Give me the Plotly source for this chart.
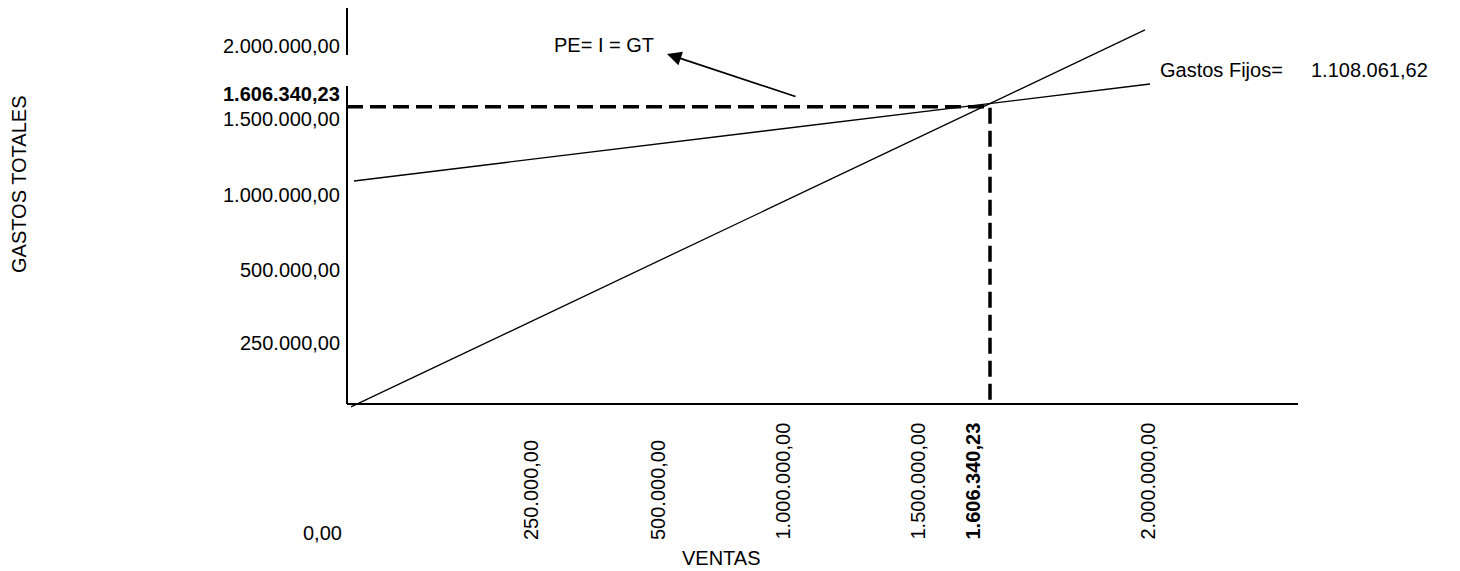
import plotly.graph_objects as go

# ---------------- data ----------------
BREAK_EVEN = 1606340.23
FIXED_COSTS = 1108061.62

# ingresos (ventas) line (value units)
revenue_x = [10000, 1993500]
revenue_y = [-16000, 2021000]
# gastos totales line
cost_x = [17500, 2006000]
cost_y = [1205000, 1729000]

y_tick_values = [2000000, BREAK_EVEN, 1500000, 1000000, 500000, 250000]
x_tick_values = [250000, 500000, 1000000, 1500000, BREAK_EVEN, 2000000]
zero_label_value = 0

# ---------------- layout geometry (page pixels) ----------------
PAGE_W, PAGE_H = 1460, 571
OFF = 8                                  # default body margin of the html page
L, R, T, B = 339, 1300, 8, 410           # plot area edges in page pixels
X0PX, Y0PX = 347, 404                    # page pixel of value 0 on each axis
KX = (990 - X0PX) / BREAK_EVEN           # px per unit
KY = (Y0PX - 106.7) / BREAK_EVEN


def vx(p):  # page pixel -> x value
    return (p - X0PX) / KX


def vy(p):  # page pixel -> y value
    return (Y0PX - p) / KY


def px_paper_x(p):
    return (p - L) / (R - L)


def px_paper_y(p):
    return (B - p) / (B - T)


def fmt(v):
    s = f"{v:,.2f}"
    return s.replace(",", "X").replace(".", ",").replace("X", ".")


FONT = "Liberation Sans, Arial, Helvetica, sans-serif"
FS = 20

fig = go.Figure()
fig.add_trace(go.Scatter(x=revenue_x, y=revenue_y, mode="lines",
                         line=dict(color="black", width=1.3), showlegend=False, hoverinfo="skip"))
fig.add_trace(go.Scatter(x=cost_x, y=cost_y, mode="lines",
                         line=dict(color="black", width=1.3), showlegend=False, hoverinfo="skip"))
# break-even dashed guides
fig.add_trace(go.Scatter(x=[0, BREAK_EVEN, BREAK_EVEN], y=[BREAK_EVEN, BREAK_EVEN, 0], mode="lines",
                         line=dict(color="black", width=3.5, dash="16px,7px"),
                         showlegend=False, hoverinfo="skip"))

AX = dict(color="black", width=2)
shapes = [
    # x axis
    dict(type="line", xref="paper", yref="paper", x0=px_paper_x(347), x1=px_paper_x(1298),
         y0=px_paper_y(404), y1=px_paper_y(404), line=AX),
    # y axis (broken)
    dict(type="line", xref="paper", yref="paper", x0=px_paper_x(347), x1=px_paper_x(347),
         y0=px_paper_y(404), y1=px_paper_y(86), line=AX),
    dict(type="line", xref="paper", yref="paper", x0=px_paper_x(347), x1=px_paper_x(347),
         y0=px_paper_y(55), y1=px_paper_y(6), line=AX),
]

ann = []
# y tick labels
y_label_px = [45.7, 94, 119, 195, 270, 343]
for v, p in zip(y_tick_values, y_label_px):
    txt = fmt(v)
    if v == BREAK_EVEN:
        txt = "<b>" + txt + "</b>"
    ann.append(dict(xref="paper", yref="paper", x=px_paper_x(342), y=px_paper_y(p),
                    xanchor="right", yanchor="middle", text=txt, showarrow=False,
                    font=dict(family=FONT, size=FS, color="black")))
# x tick labels (rotated, bottom aligned)
x_label_px = [531, 658, 782, 917, 972, 1147]
for v, p in zip(x_tick_values, x_label_px):
    txt = fmt(v)
    if v == BREAK_EVEN:
        txt = "<b>" + txt + "</b>"
    ann.append(dict(xref="paper", yref="paper", x=px_paper_x(p), y=px_paper_y(542),
                    xanchor="center", yanchor="bottom", textangle=-90, text=txt, showarrow=False,
                    font=dict(family=FONT, size=FS, color="black")))
ann.append(dict(xref="paper", yref="paper", x=px_paper_x(344), y=px_paper_y(533),
                xanchor="right", yanchor="middle", text=fmt(zero_label_value), showarrow=False,
                font=dict(family=FONT, size=FS, color="black")))
# axis titles
ann.append(dict(xref="paper", yref="paper", x=px_paper_x(721), y=px_paper_y(558),
                xanchor="center", yanchor="middle", text="VENTAS", showarrow=False,
                font=dict(family=FONT, size=FS, color="black")))
ann.append(dict(xref="paper", yref="paper", x=px_paper_x(19), y=px_paper_y(185),
                xanchor="center", yanchor="middle", text="GASTOS TOTALES", textangle=-90,
                showarrow=False, font=dict(family=FONT, size=FS, color="black")))
# break-even label and arrow
ann.append(dict(xref="paper", yref="paper", x=px_paper_x(552), y=px_paper_y(45),
                xanchor="left", yanchor="middle", text="PE= I = GT", showarrow=False,
                font=dict(family=FONT, size=FS, color="black")))
ann.append(dict(xref="x", yref="y", x=vx(667), y=vy(54), ax=vx(797), ay=vy(97),
                axref="x", ayref="y", text="", showarrow=True, arrowhead=2,
                arrowsize=1.6, arrowwidth=1.8, arrowcolor="black"))
# fixed costs label
ann.append(dict(xref="paper", yref="paper", x=px_paper_x(1158), y=px_paper_y(70),
                xanchor="left", yanchor="middle", text="Gastos Fijos=", showarrow=False,
                font=dict(family=FONT, size=FS, color="black")))
ann.append(dict(xref="paper", yref="paper", x=px_paper_x(1430), y=px_paper_y(70),
                xanchor="right", yanchor="middle", text=fmt(FIXED_COSTS), showarrow=False,
                font=dict(family=FONT, size=FS, color="black")))

FIG_W, FIG_H = PAGE_W - OFF, PAGE_H - OFF
fig.update_layout(
    width=FIG_W, height=FIG_H,
    margin=dict(l=L - OFF, r=PAGE_W - R, t=T - OFF, b=PAGE_H - B, pad=0),
    paper_bgcolor="white", plot_bgcolor="white",
    xaxis=dict(range=[vx(L), vx(R)], showgrid=False, zeroline=False, showline=False,
               showticklabels=False, ticks="", fixedrange=True),
    yaxis=dict(range=[vy(B), vy(T)], showgrid=False, zeroline=False, showline=False,
               showticklabels=False, ticks="", fixedrange=True),
    shapes=shapes, annotations=ann, showlegend=False,
)

fig.write_html("out.html")
